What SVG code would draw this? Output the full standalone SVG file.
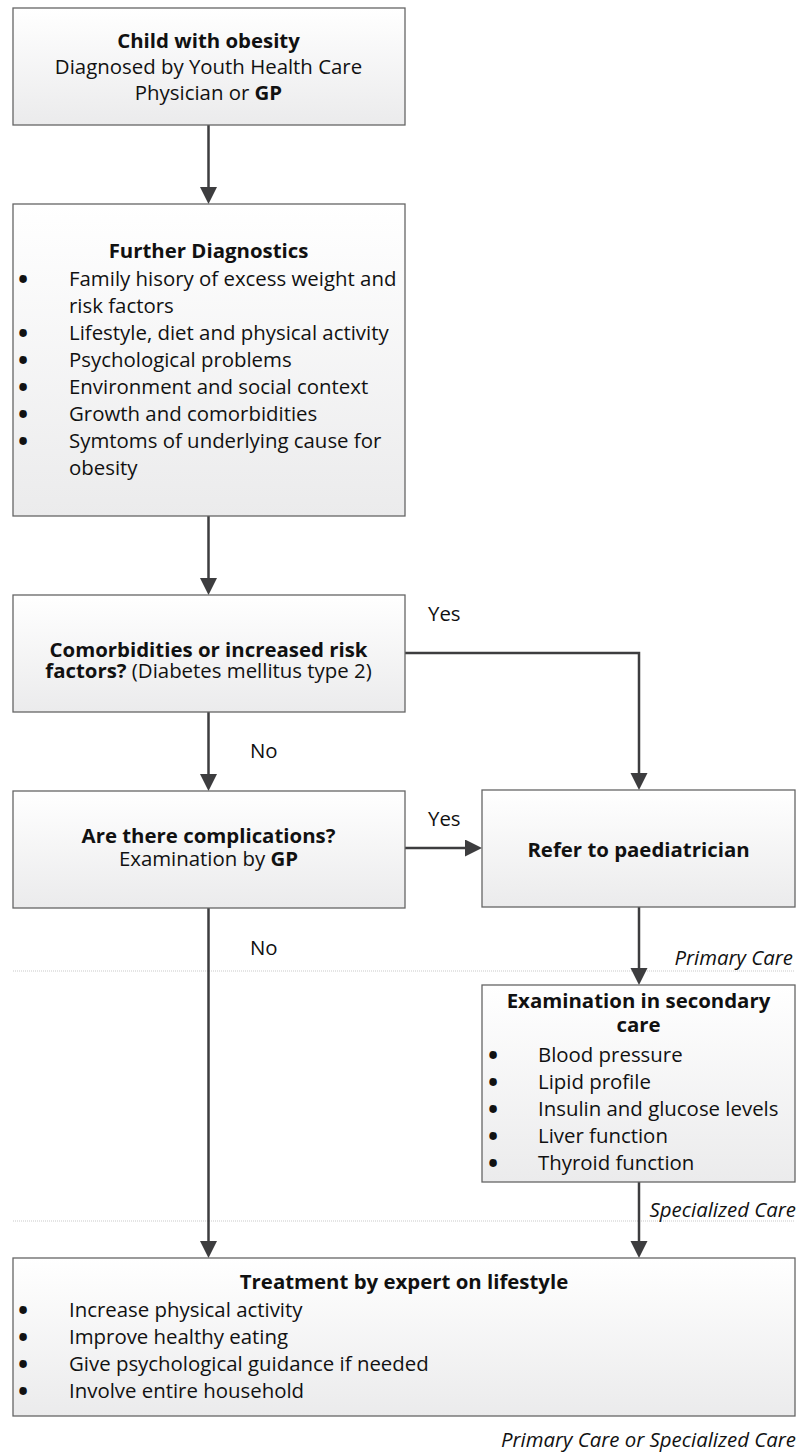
<svg xmlns="http://www.w3.org/2000/svg" width="798" height="1453" viewBox="0 0 798 1453">
<style>
text{font-family:"Open Sans","Noto Sans","Liberation Sans",sans-serif;font-size:20.4px;fill:#111}
.b{font-weight:bold}
.c{text-anchor:middle}
.i{font-style:italic}
.e{text-anchor:end}
.bl{text-anchor:middle;font-weight:bold;stroke:#111;stroke-width:1.8}
.box{fill:url(#g);stroke:#666;stroke-width:1.3}
.con{fill:none;stroke:#3d3d3f;stroke-width:2.5}
.dot{fill:none;stroke:#c9c9c9;stroke-width:1;stroke-dasharray:1 1}
</style>
<defs>
<linearGradient id="g" x1="0" y1="0" x2="0" y2="1">
<stop offset="0" stop-color="#ffffff"/>
<stop offset="1" stop-color="#ebebec"/>
</linearGradient>
<marker id="ah" markerUnits="userSpaceOnUse" markerWidth="18" markerHeight="18" refX="1" refY="8.5" orient="auto">
<path d="M0,0 L17,8.5 L0,17 z" fill="#3d3d3f"/>
</marker>
</defs>

<g id="swimlanes">
<line class="dot" x1="13" y1="971" x2="795" y2="971"/>
<line class="dot" x1="13" y1="1221" x2="795" y2="1221"/>
<text class="i e" x="793" y="965">Primary Care</text>
<text class="i e" x="796" y="1217">Specialized Care</text>
<text class="i e" x="796" y="1447">Primary Care or Specialized Care</text>
</g>

<g id="connectors">
<path class="con" d="M208.5,125 V188" marker-end="url(#ah)"/>
<path class="con" d="M208.5,516 V579" marker-end="url(#ah)"/>
<path class="con" d="M208.5,712 V775" marker-end="url(#ah)"/>
<path class="con" d="M405,653 H639 V774" marker-end="url(#ah)"/>
<path class="con" d="M405,848 H466" marker-end="url(#ah)"/>
<path class="con" d="M639,907 V969" marker-end="url(#ah)"/>
<path class="con" d="M208.5,908 V1242" marker-end="url(#ah)"/>
<path class="con" d="M639,1182 V1242" marker-end="url(#ah)"/>
<text x="428" y="621">Yes</text>
<text x="428" y="826">Yes</text>
<text x="250" y="758">No</text>
<text x="250" y="955">No</text>
</g>

<g id="n1">
<rect class="box" x="13" y="8" width="392" height="117"/>
<text class="c b" x="208.5" y="48">Child with obesity</text>
<text class="c" x="208.5" y="74">Diagnosed by Youth Health Care</text>
<text class="c" x="208.5" y="100">Physician or <tspan class="b">GP</tspan></text>
</g>

<g id="n2">
<rect class="box" x="13" y="204" width="392" height="312"/>
<text class="c b" x="208.5" y="258">Further Diagnostics</text>
<text class="bl" x="23" y="286">•</text><text x="69" y="286">Family hisory of excess weight and</text>
<text x="69" y="313">risk factors</text>
<text class="bl" x="23" y="340">•</text><text x="69" y="340">Lifestyle, diet and physical activity</text>
<text class="bl" x="23" y="367">•</text><text x="69" y="367">Psychological problems</text>
<text class="bl" x="23" y="394">•</text><text x="69" y="394">Environment and social context</text>
<text class="bl" x="23" y="421">•</text><text x="69" y="421">Growth and comorbidities</text>
<text class="bl" x="23" y="448">•</text><text x="69" y="448">Symtoms of underlying cause for</text>
<text x="69" y="475">obesity</text>
</g>

<g id="n3">
<rect class="box" x="13" y="595" width="392" height="117"/>
<text class="c b" x="208.5" y="657">Comorbidities or increased risk</text>
<text class="c" x="208.5" y="678"><tspan class="b">factors?</tspan> (Diabetes mellitus type 2)</text>
</g>

<g id="n4">
<rect class="box" x="13" y="791" width="392" height="117"/>
<text class="c b" x="208.5" y="843">Are there complications?</text>
<text class="c" x="208.5" y="866">Examination by <tspan class="b">GP</tspan></text>
</g>

<g id="n5">
<rect class="box" x="482" y="790" width="313" height="117"/>
<text class="c b" x="638.5" y="857">Refer to paediatrician</text>
</g>

<g id="n6">
<rect class="box" x="482" y="985" width="313" height="197"/>
<text class="c b" x="638.5" y="1008">Examination in secondary</text>
<text class="c b" x="638.5" y="1032">care</text>
<text class="bl" x="493" y="1062">•</text><text x="538" y="1062">Blood pressure</text>
<text class="bl" x="493" y="1089">•</text><text x="538" y="1089">Lipid profile</text>
<text class="bl" x="493" y="1116">•</text><text x="538" y="1116">Insulin and glucose levels</text>
<text class="bl" x="493" y="1143">•</text><text x="538" y="1143">Liver function</text>
<text class="bl" x="493" y="1170">•</text><text x="538" y="1170">Thyroid function</text>
</g>

<g id="n7">
<rect class="box" x="13" y="1258" width="782" height="158"/>
<text class="c b" x="404" y="1289">Treatment by expert on lifestyle</text>
<text class="bl" x="23" y="1317">•</text><text x="69" y="1317">Increase physical activity</text>
<text class="bl" x="23" y="1344">•</text><text x="69" y="1344">Improve healthy eating</text>
<text class="bl" x="23" y="1371">•</text><text x="69" y="1371">Give psychological guidance if needed</text>
<text class="bl" x="23" y="1398">•</text><text x="69" y="1398">Involve entire household</text>
</g>
</svg>
